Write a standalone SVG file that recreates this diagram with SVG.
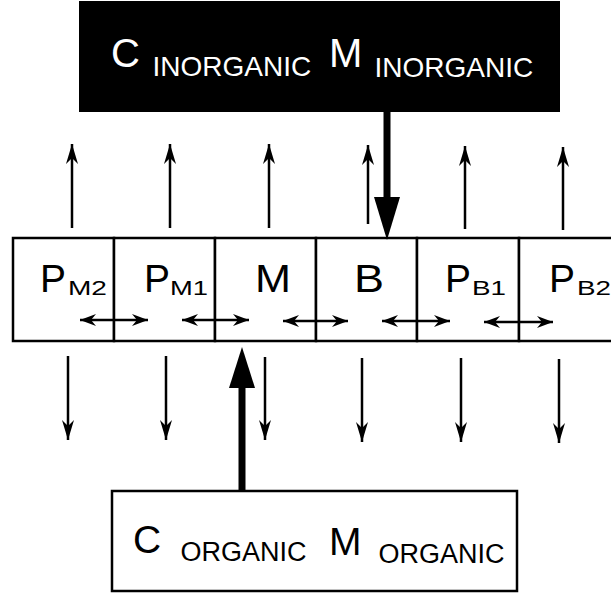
<svg xmlns="http://www.w3.org/2000/svg" width="611" height="593" viewBox="0 0 611 593">
  <defs>
    <style>
      text { font-family: "Liberation Sans", Arial, sans-serif; fill: #000; }
      .big { font-size: 40px; }
      .sub { font-size: 28px; }
      .lbl { font-size: 39px; }
      .lsub { font-size: 21px; }
      .white { fill: #fff; }
      .thin { stroke: #000; stroke-width: 2.5; fill: none; }
      .cell { stroke: #000; stroke-width: 2.5; fill: #fff; }
      .thick { stroke: #000; stroke-width: 7; fill: none; }
    </style>
    <marker id="ah" viewBox="-20 -6 20 12" refX="0" refY="0" markerWidth="20" markerHeight="12" orient="auto" markerUnits="userSpaceOnUse">
      <path d="M0,0 L-20,-6 L-14,0 L-20,6 Z" fill="#000"/>
    </marker>
    <marker id="ah2" viewBox="-16 -6 16 12" refX="0" refY="0" markerWidth="16" markerHeight="12" orient="auto-start-reverse" markerUnits="userSpaceOnUse">
      <path d="M0,0 L-16,-6 L-11,0 L-16,6 Z" fill="#000"/>
    </marker>
  </defs>

  <rect width="611" height="593" fill="#fff"/>

  <g id="inorganic">
    <rect x="79" y="1" width="481" height="111" fill="#000"/>
    <text class="big white" x="111" y="67">C</text>
    <text class="sub white" x="152.5" y="76">INORGANIC</text>
    <text class="big white" x="329" y="67">M</text>
    <text class="sub white" x="374.5" y="77">INORGANIC</text>
  </g>

  <g id="row">
    <g id="PM2"><rect class="cell" x="13" y="238" width="101" height="103"/>
      <text class="lbl" x="40" y="292" textLength="26" lengthAdjust="spacingAndGlyphs">P</text>
      <text class="lsub" x="68" y="295" textLength="39" lengthAdjust="spacingAndGlyphs">M2</text></g>
    <g id="PM1"><rect class="cell" x="114" y="238" width="101" height="103"/>
      <text class="lbl" x="144" y="292" textLength="26" lengthAdjust="spacingAndGlyphs">P</text>
      <text class="lsub" x="170" y="295" textLength="38" lengthAdjust="spacingAndGlyphs">M1</text></g>
    <g id="M"><rect class="cell" x="215" y="238" width="101" height="103"/>
      <text class="lbl" x="255" y="292" textLength="36" lengthAdjust="spacingAndGlyphs">M</text></g>
    <g id="B"><rect class="cell" x="316" y="238" width="101" height="103"/>
      <text class="lbl" x="354" y="292" textLength="30" lengthAdjust="spacingAndGlyphs">B</text></g>
    <g id="PB1"><rect class="cell" x="417" y="238" width="102" height="103"/>
      <text class="lbl" x="445" y="292" textLength="26" lengthAdjust="spacingAndGlyphs">P</text>
      <text class="lsub" x="472" y="295" textLength="34" lengthAdjust="spacingAndGlyphs">B1</text></g>
    <g id="PB2"><rect class="cell" x="519" y="238" width="103" height="103"/>
      <text class="lbl" x="549" y="292" textLength="26" lengthAdjust="spacingAndGlyphs">P</text>
      <text class="lsub" x="577" y="295" textLength="34" lengthAdjust="spacingAndGlyphs">B2</text></g>
  </g>

  <g id="organic">
    <rect x="112" y="491" width="405" height="100" fill="#fff" stroke="#000" stroke-width="2.5"/>
    <text class="big" x="133" y="553" style="font-size:39px">C</text>
    <text class="sub" x="180.5" y="561" style="font-size:27px">ORGANIC</text>
    <text class="big" x="329" y="555" style="font-size:39px">M</text>
    <text class="sub" x="378.5" y="563" style="font-size:27px">ORGANIC</text>
  </g>

  <g id="connectors">
    <line class="thin" x1="72" y1="228" x2="72" y2="144" marker-end="url(#ah)"/>
    <line class="thin" x1="170" y1="228" x2="170" y2="144" marker-end="url(#ah)"/>
    <line class="thin" x1="269" y1="228" x2="269" y2="144" marker-end="url(#ah)"/>
    <line class="thin" x1="368" y1="224" x2="368" y2="145" marker-end="url(#ah)"/>
    <line class="thin" x1="465" y1="229" x2="465" y2="146" marker-end="url(#ah)"/>
    <line class="thin" x1="563" y1="230" x2="563" y2="147" marker-end="url(#ah)"/>
    <line class="thin" x1="68" y1="356" x2="68" y2="440" marker-end="url(#ah)"/>
    <line class="thin" x1="166" y1="356" x2="166" y2="440" marker-end="url(#ah)"/>
    <line class="thin" x1="265" y1="357" x2="265" y2="440" marker-end="url(#ah)"/>
    <line class="thin" x1="362" y1="358" x2="362" y2="442" marker-end="url(#ah)"/>
    <line class="thin" x1="461" y1="358" x2="461" y2="442" marker-end="url(#ah)"/>
    <line class="thin" x1="559" y1="359" x2="559" y2="443" marker-end="url(#ah)"/>
    <line class="thin" x1="80" y1="320" x2="148" y2="320" marker-start="url(#ah2)" marker-end="url(#ah2)"/>
    <line class="thin" x1="182" y1="320" x2="249" y2="320" marker-start="url(#ah2)" marker-end="url(#ah2)"/>
    <line class="thin" x1="283" y1="321" x2="348" y2="321" marker-start="url(#ah2)" marker-end="url(#ah2)"/>
    <line class="thin" x1="382" y1="321" x2="450" y2="321" marker-start="url(#ah2)" marker-end="url(#ah2)"/>
    <line class="thin" x1="484" y1="322" x2="553" y2="322" marker-start="url(#ah2)" marker-end="url(#ah2)"/>
    <line class="thick" x1="387" y1="110" x2="387" y2="204"/>
    <path d="M387,240 L374,197 L400,197 Z" fill="#000"/>
    <line class="thick" x1="242" y1="492" x2="242" y2="382"/>
    <path d="M242,347 L229,388 L255,388 Z" fill="#000"/>
  </g>
</svg>
